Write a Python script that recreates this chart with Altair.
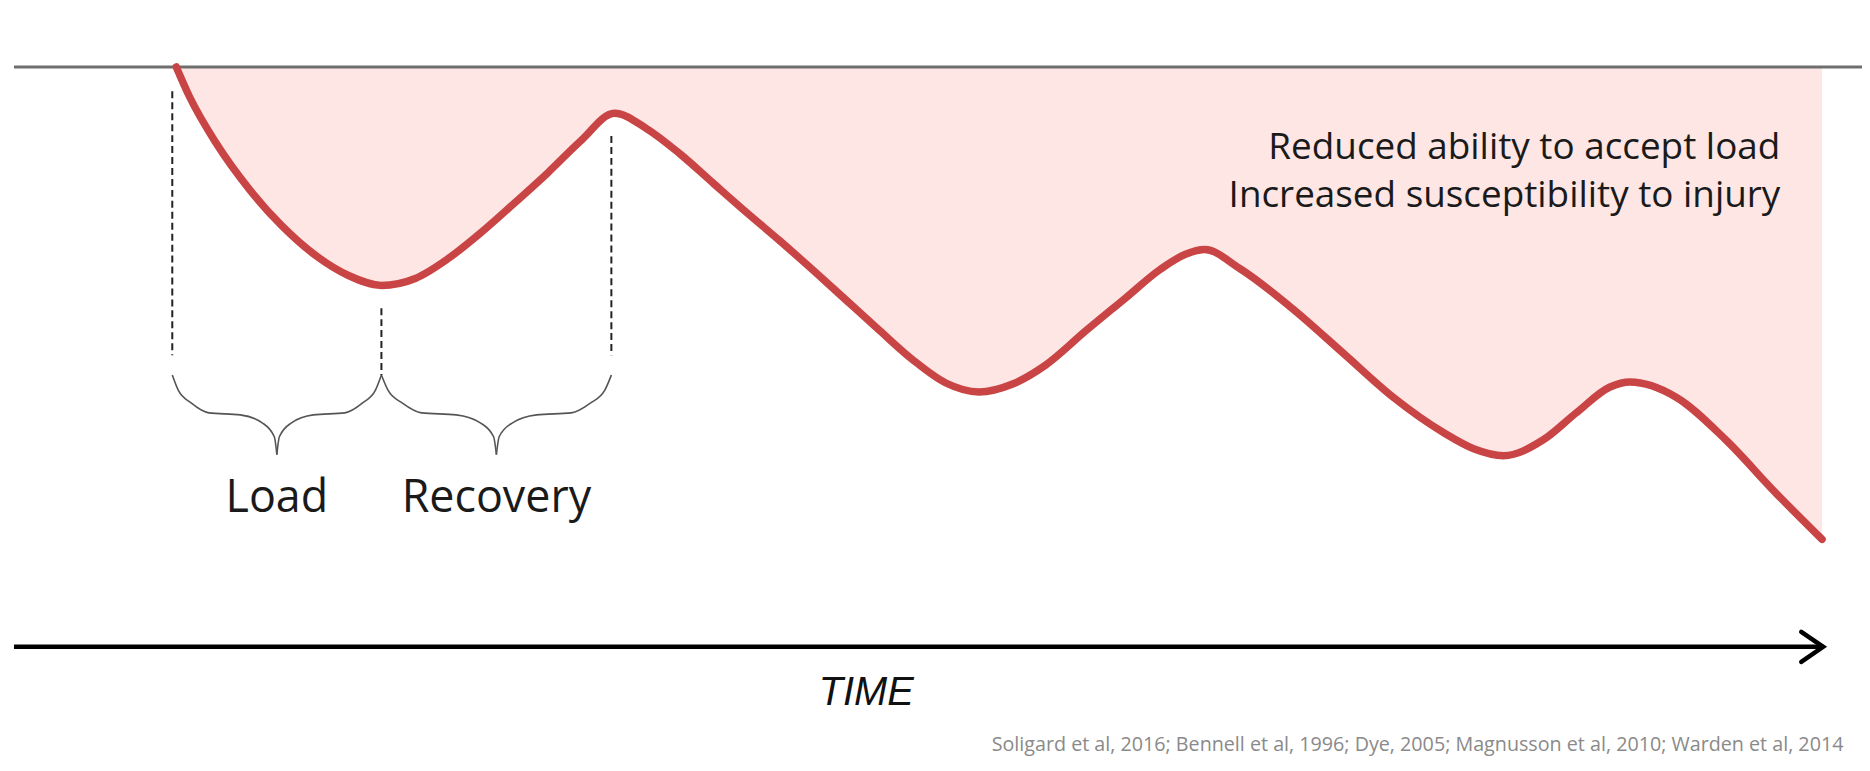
import altair as alt
import pandas as pd

# ---- curve: capacity (100 = baseline line) over time (0..100 = arrow length)
time = [8.97, 9.69, 11.17, 12.99, 14.80, 16.68, 18.49, 20.31, 22.18, 24.00,
        25.81, 27.68, 29.50, 31.32, 33.19, 35.00, 36.82, 38.69, 40.51, 42.32,
        44.19, 46.01, 47.83, 49.70, 51.51, 53.33, 55.20, 57.02, 59.22, 61.42,
        63.35, 64.72, 65.82, 67.75, 70.78, 73.53, 76.28, 79.03, 80.68, 82.33,
        84.53, 86.35, 88.22, 89.32, 91.85, 94.61, 97.36, 99.94]
capacity = [100, 94.95, 86.88, 78.98, 72.63, 67.48, 64.04, 62.33, 63.53, 66.96,
            71.43, 76.58, 81.73, 87.23, 92.03, 89.29, 84.99, 79.84, 74.86, 70.05,
            64.90, 59.75, 54.60, 49.45, 45.50, 43.96, 45.33, 48.59, 54.43, 60.10,
            65.08, 67.65, 68.51, 65.25, 58.04, 50.48, 42.93, 36.92, 34.17, 32.97,
            35.71, 40.35, 44.81, 45.67, 43.10, 35.71, 26.61, 18.54]
baseline_level = 100

# ---- dashed markers
dash_t = [8.75, 20.31, 33.02]
dash_top = [95.8, 58.4, 88.1]
dash_bottom = [50.3, 46.9, 50.3]

# ---- braces and their labels
brace_start = [8.75, 20.31]
brace_end = [20.31, 33.02]
brace_labels = ["Load", "Recovery"]
brace_top = 46.87
brace_tip = 33.14
label_level = 23.2

# ---- annotation texts
note_lines = ["Reduced ability to accept load", "Increased susceptibility to injury"]
note_t = 97.63
note_levels = [84.13, 75.89]
axis_label = "TIME"
axis_label_pos = (47.11, -10.1)
citation = ("Soligard et al, 2016; Bennell et al, 1996; Dye, 2005; "
            "Magnusson et al, 2010; Warden et al, 2014")
citation_pos = (54.04, -18.03)

# arrow
arrow_t = [0, 100]
arrow_head_t = [98.79, 100, 98.79]
arrow_head_c = [2.6, 0, -2.6]
top_line_t = [0, 102.5]

# brace glyph profile (shape only)
prof_u = [0, 0.057, 0.18, 0.35, 0.65, 0.86, 0.976, 1.0]
prof_v = [0, 0.19, 0.35, 0.475, 0.5, 0.6, 0.775, 1.0]

X = alt.Scale(domain=[0, 100], range=[6, 1823], nice=False, zero=False)
Y = alt.Scale(domain=[0, 100], range=[640, 57.6], nice=False, zero=False)


def xy(xf="t", yf="c"):
    return dict(x=alt.X(f"{xf}:Q", scale=X, axis=None),
                y=alt.Y(f"{yf}:Q", scale=Y, axis=None))


curve = pd.DataFrame({"t": time, "c": capacity, "top": baseline_level})

area = alt.Chart(curve).mark_area(interpolate="monotone", color="#fde6e4").encode(
    **xy(), y2="top:Q")
line = alt.Chart(curve).mark_line(interpolate="monotone", color="#c94444",
                                  strokeWidth=7.5, strokeCap="round").encode(**xy())

top_df = pd.DataFrame({"t": [top_line_t[0]], "t2": [top_line_t[1]], "c": [baseline_level]})
top_rule = alt.Chart(top_df).mark_rule(color="#6e6e6e", strokeWidth=3).encode(
    **xy(), x2="t2:Q")

dash_df = pd.DataFrame({"t": dash_t, "c": dash_top, "c2": dash_bottom})
dashes = alt.Chart(dash_df).mark_rule(color="#222222", strokeWidth=2,
                                      strokeDash=[7, 4]).encode(**xy(), y2="c2:Q")

rows = []
for i, (s, e) in enumerate(zip(brace_start, brace_end)):
    half = (e - s) / 2
    for u, v in zip(prof_u, prof_v):
        c = brace_top - v * (brace_top - brace_tip)
        rows.append({"t": s + u * half, "c": c, "seg": f"{i}L"})
        rows.append({"t": e - u * half, "c": c, "seg": f"{i}R"})
brace_df = pd.DataFrame(rows)
braces = alt.Chart(brace_df).mark_line(interpolate="monotone", color="#555555",
                                       strokeWidth=1.6).encode(**xy(), detail="seg:N")

label_df = pd.DataFrame({"t": [(s + e) / 2 for s, e in zip(brace_start, brace_end)],
                         "c": label_level, "txt": brace_labels})
labels = alt.Chart(label_df).mark_text(font="Open Sans", fontSize=45, color="#1a1a1a",
                                       align="center", baseline="alphabetic").encode(
    **xy(), text="txt:N")

note_df = pd.DataFrame({"t": note_t, "c": note_levels, "txt": note_lines})
notes = alt.Chart(note_df).mark_text(font="Open Sans", fontSize=37, color="#1a1a1a",
                                     align="right", baseline="alphabetic").encode(
    **xy(), text="txt:N")

arrow_df = pd.DataFrame({"t": [arrow_t[0]], "t2": [arrow_t[1]], "c": [0]})
arrow = alt.Chart(arrow_df).mark_rule(color="#000000", strokeWidth=4.5).encode(
    **xy(), x2="t2:Q")
head_df = pd.DataFrame({"t": arrow_head_t, "c": arrow_head_c, "k": [0, 1, 2]})
head = alt.Chart(head_df).mark_line(color="#000000", strokeWidth=4.5,
                                    strokeCap="round", strokeJoin="miter").encode(
    **xy(), order="k:Q")

time_df = pd.DataFrame({"t": [axis_label_pos[0]], "c": [axis_label_pos[1]], "txt": [axis_label]})
time_txt = alt.Chart(time_df).mark_text(font="Liberation Sans", fontStyle="italic",
                                        fontSize=40, color="#111111", align="center",
                                        baseline="alphabetic").encode(**xy(), text="txt:N")

cit_df = pd.DataFrame({"t": [citation_pos[0]], "c": [citation_pos[1]], "txt": [citation]})
cit_txt = alt.Chart(cit_df).mark_text(font="Open Sans", fontSize=19.8, color="#8a8a8a",
                                      align="left", baseline="alphabetic").encode(
    **xy(), text="txt:N")

chart = alt.layer(area, top_rule, line, dashes, braces, labels, notes, arrow, head,
                  time_txt, cit_txt).properties(
    width=1862, height=750, padding=0,
    autosize=alt.AutoSizeParams(type="none"),
    background="white",
).configure_view(stroke=None)

chart.save("out.html", embed_options={"renderer": "svg", "actions": False})
